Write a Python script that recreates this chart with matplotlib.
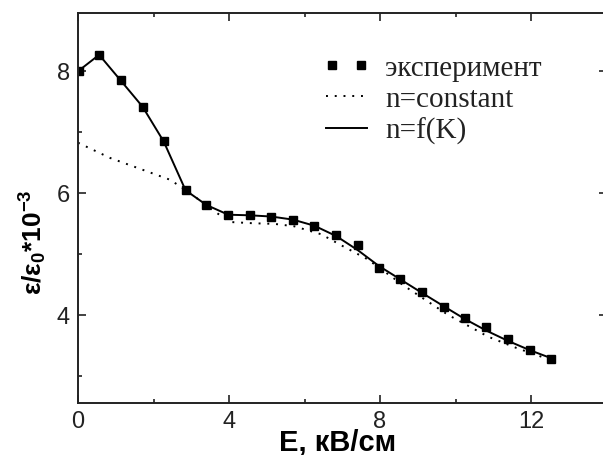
import matplotlib
matplotlib.use("Agg")
import matplotlib.pyplot as plt
from matplotlib.ticker import MultipleLocator
from matplotlib.legend_handler import HandlerLine2D

# experiment points
exp_x = [0.02, 0.56, 1.13, 1.71, 2.27, 2.85, 3.40, 3.98, 4.56, 5.12, 5.69, 6.26,
         6.84, 7.41, 7.97, 8.54, 9.11, 9.69, 10.25, 10.82, 11.40, 11.97, 12.53]
exp_y = [8.00, 8.26, 7.84, 7.41, 6.84, 6.04, 5.80, 5.64, 5.63, 5.61, 5.56, 5.46,
         5.31, 5.15, 4.77, 4.59, 4.37, 4.12, 3.94, 3.80, 3.61, 3.43, 3.28]

# n = f(K)
fit_x = [0.02, 0.56, 1.13, 1.71, 2.27, 2.85, 3.40, 3.98, 4.56, 5.12, 5.69, 6.26,
         6.84, 7.41, 7.97, 8.54, 9.11, 9.69, 10.25, 10.82, 11.40, 11.97, 12.53]
fit_y = [8.00, 8.26, 7.84, 7.41, 6.84, 6.04, 5.80, 5.64, 5.63, 5.61, 5.56, 5.46,
         5.29, 5.06, 4.80, 4.58, 4.36, 4.14, 3.93, 3.74, 3.57, 3.42, 3.29]

# n = constant
const_x = [0.0, 0.85, 1.74, 2.45, 3.02, 3.60, 4.04, 4.64, 5.20, 5.73, 6.44, 7.00,
           7.67, 8.65, 9.80, 10.87, 11.60, 12.29, 12.40]
const_y = [6.82, 6.57, 6.37, 6.21, 5.97, 5.70, 5.52, 5.50, 5.49, 5.45, 5.32, 5.13,
           4.91, 4.47, 4.00, 3.64, 3.46, 3.31, 3.28]

plt.rcParams["mathtext.fontset"] = "custom"
plt.rcParams["mathtext.rm"] = "Liberation Sans:bold"
plt.rcParams["mathtext.bf"] = "Liberation Sans:bold"
plt.rcParams["mathtext.it"] = "Liberation Sans:bold"

W, H = 603, 456
fig = plt.figure(figsize=(W / 100, H / 100), dpi=100)
ax = fig.add_axes([78 / W, 1 - 404.3 / H, (606.5 - 78) / W, (404.3 - 14.3) / H])

l_const, = ax.plot(const_x, const_y, color="black", linestyle=(0, (1, 3.5)), linewidth=1.4,
                   label="n=constant")
l_fit, = ax.plot(fit_x, fit_y, color="black", linestyle="-", linewidth=1.4, label="n=f(K)")
l_exp, = ax.plot(exp_x, exp_y, color="black", linestyle="none", marker="s", markersize=6,
                 label="эксперимент")

ax.set_xlim(0, 14)
ax.set_ylim(2.55, 8.94)

ax.xaxis.set_major_locator(MultipleLocator(4))
ax.xaxis.set_minor_locator(MultipleLocator(2))
ax.yaxis.set_major_locator(MultipleLocator(2))
ax.yaxis.set_minor_locator(MultipleLocator(1))
ax.tick_params(which="both", direction="in", top=True, right=True, width=1.2, color="#222222")
ax.tick_params(which="major", length=5.5)
ax.tick_params(which="minor", length=3.2)
ax.tick_params(axis="x", which="major", pad=5, labelsize=17, labelcolor="#222222")
ax.tick_params(axis="y", which="major", pad=6, labelsize=17, labelcolor="#222222")
for lab in ax.get_xticklabels() + ax.get_yticklabels():
    lab.set_family("Liberation Sans")
for sp in ax.spines.values():
    sp.set_linewidth(1.4)
    sp.set_color("#222222")

fig.text(338 / W, 1 - 451 / H, "E, кВ/см", ha="center", va="baseline",
         fontsize=21, fontweight="bold", family="Liberation Sans")
fig.text(33 / W, 1 - 242 / H, r"$\varepsilon/\varepsilon_0$*10$^{-3}$",
         ha="center", va="center", rotation=90, fontsize=19,
         fontweight="bold", family="Liberation Sans")

leg = ax.legend(handles=[l_exp, l_const, l_fit], loc="upper left",
                bbox_to_anchor=(317 / W, 1 - 56 / H), bbox_transform=fig.transFigure,
                frameon=False, numpoints=2, handlelength=2.0, handletextpad=0.33,
                labelspacing=0.16, borderpad=0, borderaxespad=0,
                handler_map={l_exp: HandlerLine2D(marker_pad=0.5)},
                prop={"family": "Liberation Serif", "size": 21})
for t in leg.get_texts():
    t.set_color("#222222")

fig.savefig("out.png", dpi=100)
